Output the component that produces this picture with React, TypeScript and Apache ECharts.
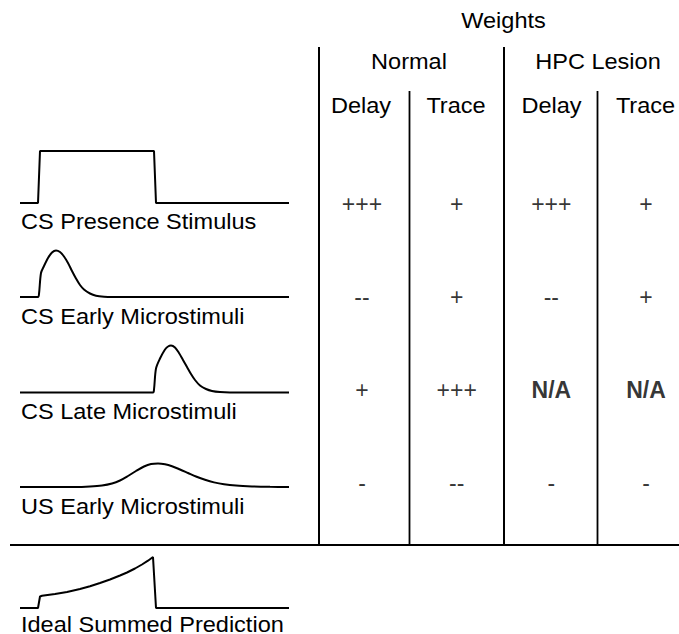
import React, { useEffect, useRef } from "react";
import * as echarts from "echarts";

// ---------- data ----------
const headerTitle = "Weights";
const groupLabels = ["Normal", "HPC Lesion"];
const conditionLabels = ["Delay", "Trace", "Delay", "Trace"];
const stimulusLabels = [
  "CS Presence Stimulus",
  "CS Early Microstimuli",
  "CS Late Microstimuli",
  "US Early Microstimuli",
  "Ideal Summed Prediction",
];

const normalDelay = ["+++", "--", "+", "-"];
const normalTrace = ["+", "+", "+++", "--"];
const lesionDelay = ["+++", "--", "N/A", "-"];
const lesionTrace = ["+", "+", "N/A", "-"];

// curve shapes: [time offset, height above baseline]
const presenceCurve = [[0, 0], [18, 0], [20, 52], [134, 52], [136, 0], [269, 0]];
const csEarlyCurve = [
  [0, 0], [18, 0], [19, 3], [21, 24], [24, 31], [28, 39], [32, 44.5], [36, 46.5],
  [40, 45], [44, 40.5], [48, 34], [52, 26], [56, 18.5], [60, 12], [64, 7.5],
  [70, 3.5], [76, 1.3], [84, 0.3], [92, 0], [269, 0],
];
const csLateCurve = [
  [0, 0], [133, 0], [134, 3], [136, 24], [140, 34], [145, 43], [148, 46], [151, 47],
  [155, 45], [159, 39.5], [163, 32.5], [167, 25.5], [171, 18.5], [175, 12.5],
  [180, 7], [186, 3.5], [192, 1.5], [200, 0.4], [210, 0], [269, 0],
];
const usEarlyCurve = [
  [0, 0], [55, 0], [70, 0.5], [82, 1.5], [92, 3.5], [100, 6.5], [108, 11], [116, 16],
  [124, 20.5], [131, 23], [138, 23.6], [145, 22.8], [152, 20.8], [160, 17.5],
  [168, 14], [176, 10.5], [185, 7.2], [194, 4.6], [204, 2.7], [216, 1.4],
  [232, 0.6], [250, 0.2], [269, 0],
];
const idealCurve = [
  [0, 0], [18, 0], [20, 11.5], [22, 12.2], [35, 14], [47, 16], [60, 19], [70, 21.8],
  [80, 25], [90, 28.5], [100, 32.5], [107, 35.5], [115, 39.5], [122, 43.5],
  [128, 47.3], [133, 51], [136, 0], [269, 0],
];

// ---------- layout ----------
const FONT = "'Liberation Sans', Arial, Helvetica, sans-serif";
const FS = 22;
const SX = 1.07;
const curves = [presenceCurve, csEarlyCurve, csLateCurve, usEarlyCurve, idealCurve];
const curveBaselines = [203, 297, 392.5, 487, 608];
const curveSmooth: (number | boolean)[] = [false, 0.3, 0.3, 0.3, false];
const labelY = [221.7, 316.7, 411.7, 506, 624];
const CURVE_LEFT = 20;
const CURVE_W = 269;
const CURVE_H = 60;

function txt(text: string, x: number, y: number, align: string = "center") {
  return {
    type: "text",
    x,
    y,
    scaleX: SX,
    silent: true,
    style: {
      text,
      fill: "#000",
      fontSize: FS,
      fontFamily: FONT,
      align,
      verticalAlign: "middle",
    },
  };
}

function ln(x1: number, y1: number, x2: number, y2: number, w = 2) {
  return {
    type: "line",
    silent: true,
    shape: { x1, y1, x2, y2 },
    style: { stroke: "#000", lineWidth: w },
  };
}

function buildOption() {
  const tableCols = [normalDelay, normalTrace, lesionDelay, lesionTrace];
  const grid: any[] = curves.map((_, i) => ({
    left: CURVE_LEFT,
    width: CURVE_W,
    top: curveBaselines[i] - CURVE_H,
    height: CURVE_H,
  }));
  grid.push({ left: 362, width: 284, top: 204, height: 279 });

  const xAxis: any[] = curves.map((_, i) => ({
    gridIndex: i, type: "value", min: 0, max: CURVE_W, show: false,
  }));
  xAxis.push({ gridIndex: 5, type: "value", min: 0, max: 3, show: false });
  const yAxis: any[] = curves.map((_, i) => ({
    gridIndex: i, type: "value", min: 0, max: CURVE_H, show: false,
  }));
  yAxis.push({ gridIndex: 5, type: "value", min: 0, max: 3, inverse: true, show: false });

  const series: any[] = curves.map((data, i) => ({
    type: "line",
    xAxisIndex: i,
    yAxisIndex: i,
    data,
    symbol: "none",
    smooth: curveSmooth[i],
    clip: false,
    silent: true,
    lineStyle: { color: "#000", width: 2 },
  }));

  const tableData: any[] = [];
  tableCols.forEach((col, c) => {
    col.forEach((v, r) => {
      tableData.push({
        value: [c, r, v],
        label: { fontWeight: v === "N/A" ? "bold" : "normal" },
      });
    });
  });
  series.push({
    type: "scatter",
    xAxisIndex: 5,
    yAxisIndex: 5,
    data: tableData,
    symbol: "circle",
    symbolSize: 1,
    silent: true,
    itemStyle: { color: "rgba(0,0,0,0)" },
    label: {
      show: true,
      position: "inside",
      color: "#000",
      fontSize: 23,
      fontFamily: FONT,
      formatter: (p: any) => p.value[2],
    },
  });

  const graphic: any[] = [
    txt(headerTitle, 503.5, 20),
    txt(groupLabels[0], 409, 61),
    txt(groupLabels[1], 598, 61),
    txt(conditionLabels[0], 361, 105),
    txt(conditionLabels[1], 456, 105),
    txt(conditionLabels[2], 551.5, 105),
    txt(conditionLabels[3], 645.5, 105),
    ...stimulusLabels.map((s, i) => txt(s, 21, labelY[i], "left")),
    ln(10, 545, 679, 545, 2),
    ln(319, 47, 319, 545, 2),
    ln(504, 47, 504, 545, 2),
    ln(409.5, 91, 409.5, 545, 1.8),
    ln(597.5, 91, 597.5, 545, 1.8),
  ];

  return {
    animation: false,
    backgroundColor: "#fff",
    grid,
    xAxis,
    yAxis,
    series,
    graphic,
  };
}

export default function App() {
  const ref = useRef<HTMLDivElement>(null);
  useEffect(() => {
    const chart = echarts.init(ref.current as HTMLDivElement, null, { renderer: "svg" });
    chart.setOption(buildOption() as any);
    return () => chart.dispose();
  }, []);
  return (
    <div
      ref={ref}
      style={{ position: "fixed", left: 0, top: 0, width: 679, height: 634, background: "#fff" }}
    />
  );
}
